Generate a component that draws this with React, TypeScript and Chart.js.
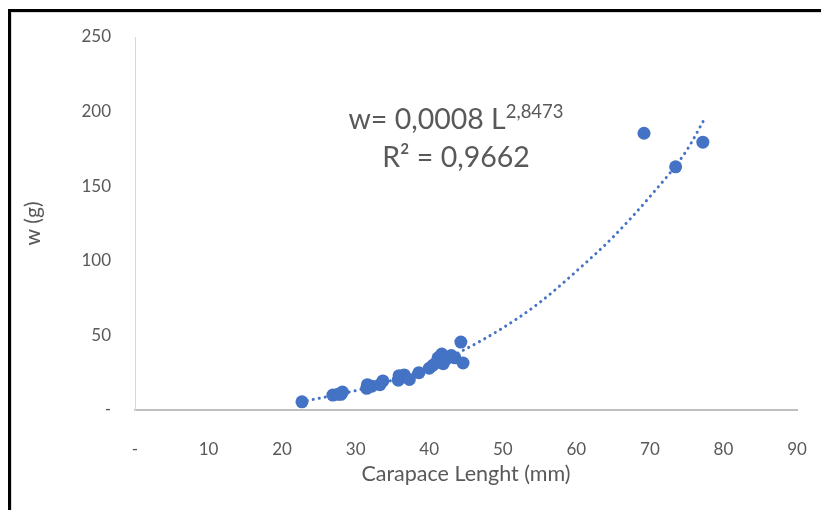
import React, { useEffect, useRef } from "react";
import { Chart, registerables } from "chart.js";

Chart.register(...registerables);

const lengthMm = [22.7, 26.9, 27.6, 28.2, 28.0, 31.5, 31.6, 32.2, 33.3, 33.7, 35.8, 35.9, 36.6, 37.3, 38.6, 40.0, 40.5, 41.0, 41.2, 41.7, 41.9, 42.3, 43.0, 43.5, 44.3, 44.6, 69.2, 73.5, 77.2];
const weightG = [5.5, 10, 10.5, 12, 10.5, 14.5, 17, 16, 17, 19.5, 20, 23, 23.5, 20.5, 25, 28, 30, 32, 35, 37.5, 31, 34, 36.5, 35, 45.5, 31.5, 185.5, 163, 179.5];

const trendL = [22.6, 30, 35, 40, 45, 50, 55, 60, 65, 70, 75, 77.3];
const trendW = [5.5, 13, 20, 29, 41, 55, 72, 93, 116, 143, 174, 194];

const xTicks = [0, 10, 20, 30, 40, 50, 60, 70, 80, 90];
const yTicks = [0, 50, 100, 150, 200, 250];

const FONT = "Lato, 'Open Sans', sans-serif";
const TEXT = "#595959";
const BLUE = "#4472C4";

export default function App() {
  const ref = useRef<HTMLCanvasElement | null>(null);
  useEffect(() => {
    if (!ref.current) return;
    const chart = new Chart(ref.current, {
      type: "scatter",
      data: {
        datasets: [
          {
            label: "w",
            data: lengthMm.map((x, i) => ({ x, y: weightG[i] })),
            backgroundColor: BLUE,
            borderColor: BLUE,
            pointRadius: 6.5,
            pointHoverRadius: 6.5,
            borderWidth: 0,
            order: 1,
          },
          {
            label: "trend",
            data: trendL.map((x, i) => ({ x, y: trendW[i] })),
            showLine: true,
            borderColor: BLUE,
            borderWidth: 3,
            borderDash: [0.1, 6],
            borderCapStyle: "round",
            cubicInterpolationMode: "monotone",
            pointRadius: 0,
            fill: false,
            order: 2,
          } as any,
        ],
      },
      options: {
        animation: false,
        responsive: true,
        maintainAspectRatio: false,
        layout: { padding: { top: 24, right: 32, left: 0, bottom: 0 } },
        plugins: { legend: { display: false }, tooltip: { enabled: false } },
        scales: {
          x: {
            type: "linear",
            min: 0,
            max: 90,
            afterBuildTicks: (s: any) => {
              s.ticks = xTicks.map((v) => ({ value: v }));
            },
            afterFit: (s: any) => {
              s.height = 100;
              s.paddingLeft = 0;
              s.paddingRight = 0;
              s.paddingTop = 0;
              s.paddingBottom = 0;
            },
            ticks: {
              color: TEXT,
              font: { family: FONT, size: 17 },
              padding: 29,
              callback: (v: any) => (v === 0 ? "-" : String(v)),
            },
            grid: { display: false, drawTicks: false },
            border: { display: true, color: "#bfbfbf", width: 2 },
            title: {
              display: true,
              text: "Carapace Lenght (mm)",
              color: TEXT,
              font: { family: FONT, size: 21.5 },
              padding: { top: 0, bottom: 23 },
            },
          },
          y: {
            type: "linear",
            min: 0,
            max: 250,
            afterBuildTicks: (s: any) => {
              s.ticks = yTicks.map((v) => ({ value: v }));
            },
            afterFit: (s: any) => {
              s.width = 123;
              s.paddingLeft = 0;
              s.paddingRight = 0;
              s.paddingTop = 0;
              s.paddingBottom = 0;
            },
            ticks: {
              color: TEXT,
              font: { family: FONT, size: 17 },
              padding: 24,
              callback: (v: any) => (v === 0 ? "-" : String(v)),
            },
            grid: { display: false, drawTicks: false },
            border: { display: true, color: "#d9d9d9", width: 1 },
            title: {
              display: true,
              text: "w (g)",
              color: TEXT,
              font: { family: FONT, size: 21 },
              padding: { top: 9, bottom: 0 },
            },
          },
        },
      },
    });
    return () => chart.destroy();
  }, []);

  return (
    <div style={{ marginTop: 1, borderLeft: "3px solid #000", borderTop: "3px solid #000", width: 821, height: 501, boxSizing: "border-box" }}>
      <div style={{ borderLeft: "1px solid #d9d9d9", borderTop: "1px solid #d9d9d9", width: 818, height: 498, boxSizing: "border-box", position: "relative" }}>
        <div style={{ width: 817, height: 497 }}>
          <canvas ref={ref} />
        </div>
        <div style={{ position: "absolute", left: 244, top: 89, width: 400, textAlign: "center", fontFamily: FONT, fontSize: 28.5, lineHeight: "32px", color: TEXT, whiteSpace: "nowrap" }}>
          w= 0,0008 L<span style={{ fontSize: 18.5, position: "relative", top: -11 }}>2,8473</span>
        </div>
        <div style={{ position: "absolute", left: 244, top: 127, width: 400, textAlign: "center", fontFamily: FONT, fontSize: 28.5, lineHeight: "32px", color: TEXT, whiteSpace: "nowrap" }}>
          R² = 0,9662
        </div>
      </div>
    </div>
  );
}
